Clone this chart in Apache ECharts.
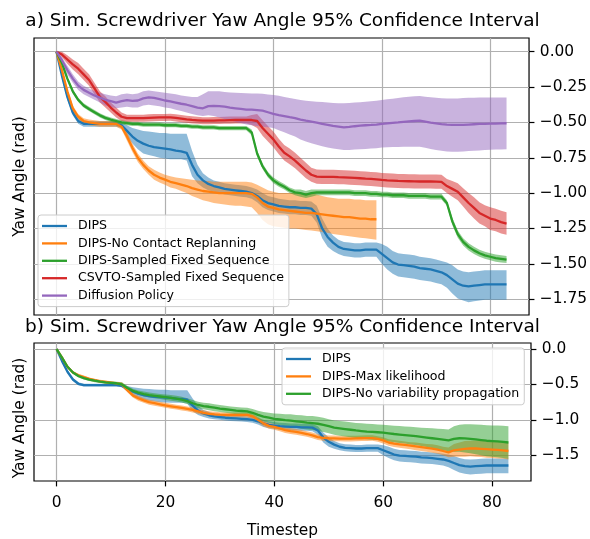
<!DOCTYPE html>
<html><head><meta charset="utf-8">
<script src="https://cdn.jsdelivr.net/npm/echarts@6/dist/echarts.min.js"></script>
<style>html,body{margin:0;padding:0;background:#fff}#c{width:590px;height:539px}</style>
</head><body><div id="c"></div>
<script>
// ---------- tick labels ----------
const xTicks = [0, 20, 40, 60, 80];
const yTicksTop = [0, -0.25, -0.5, -0.75, -1.0, -1.25, -1.5, -1.75];
const yTicksBottom = [0, -0.5, -1.0, -1.5];

// ---------- DIPS (shared by both panels) ----------
const dipsMean = [0,-0.17,-0.32,-0.43,-0.49,-0.51,-0.51,-0.51,-0.51,-0.51,-0.51,-0.51,
-0.52,-0.56,-0.6,-0.63,-0.65,-0.665,-0.675,-0.68,-0.685,-0.69,-0.7,-0.705,-0.715,
-0.8,-0.87,-0.91,-0.935,-0.95,-0.96,-0.97,-0.975,-0.98,-0.985,-0.99,-1.0,
-1.02,-1.05,-1.07,-1.08,-1.09,-1.095,-1.1,-1.1,-1.105,-1.105,-1.11,-1.15,
-1.25,-1.31,-1.35,-1.38,-1.395,-1.4,-1.405,-1.405,-1.4,-1.4,-1.4,
-1.43,-1.46,-1.49,-1.505,-1.51,-1.515,-1.52,-1.53,-1.535,-1.54,-1.55,-1.56,
-1.58,-1.61,-1.64,-1.655,-1.66,-1.655,-1.65,-1.645,-1.645,-1.645,-1.645,-1.645];
const dipsHi = [0,-0.15,-0.3,-0.41,-0.47,-0.49,-0.49,-0.49,-0.49,-0.49,-0.49,-0.49,
-0.5,-0.52,-0.54,-0.55,-0.56,-0.565,-0.57,-0.575,-0.575,-0.58,-0.58,-0.58,-0.58,
-0.7,-0.8,-0.86,-0.89,-0.91,-0.92,-0.93,-0.935,-0.94,-0.945,-0.95,-0.96,
-0.975,-1.0,-1.02,-1.03,-1.04,-1.045,-1.05,-1.05,-1.055,-1.055,-1.06,-1.09,
-1.18,-1.25,-1.3,-1.33,-1.345,-1.35,-1.355,-1.355,-1.35,-1.35,-1.35,
-1.36,-1.38,-1.41,-1.425,-1.43,-1.435,-1.44,-1.45,-1.455,-1.46,-1.47,-1.48,
-1.49,-1.51,-1.54,-1.555,-1.56,-1.555,-1.55,-1.545,-1.545,-1.545,-1.545,-1.545];
const dipsLo = [0,-0.19,-0.34,-0.45,-0.51,-0.53,-0.53,-0.53,-0.53,-0.53,-0.53,-0.53,
-0.54,-0.6,-0.65,-0.69,-0.72,-0.73,-0.74,-0.75,-0.755,-0.76,-0.76,-0.76,-0.77,
-0.88,-0.93,-0.96,-0.98,-0.99,-1.0,-1.01,-1.015,-1.02,-1.025,-1.03,-1.04,
-1.065,-1.1,-1.12,-1.13,-1.14,-1.145,-1.15,-1.15,-1.155,-1.155,-1.16,-1.21,
-1.32,-1.38,-1.41,-1.43,-1.445,-1.45,-1.455,-1.455,-1.45,-1.45,-1.45,
-1.5,-1.54,-1.57,-1.59,-1.595,-1.6,-1.605,-1.615,-1.62,-1.625,-1.635,-1.645,
-1.67,-1.71,-1.745,-1.76,-1.772,-1.765,-1.76,-1.755,-1.755,-1.755,-1.755,-1.755];

// ---------- DIPS-No Contact Replanning ----------
const noContactMean = [0,-0.13,-0.28,-0.4,-0.46,-0.49,-0.5,-0.505,-0.51,-0.51,-0.51,-0.51,
-0.53,-0.6,-0.68,-0.75,-0.8,-0.84,-0.87,-0.89,-0.905,-0.92,-0.93,-0.94,-0.95,-0.965,-0.975,-0.985,-0.99,-0.995,
-1.0,-1.0,-1.0,-1.0,-1.0,-1.0,-1.005,
-1.03,-1.07,-1.095,-1.105,-1.115,-1.12,-1.125,-1.13,-1.135,-1.14,-1.14,-1.145,-1.15,-1.155,-1.16,-1.165,-1.17,-1.17,-1.175,-1.18,-1.18,-1.185,-1.185];
const noContactHi = [0,-0.11,-0.26,-0.38,-0.44,-0.47,-0.48,-0.485,-0.49,-0.49,-0.49,-0.49,
-0.51,-0.57,-0.65,-0.72,-0.77,-0.81,-0.835,-0.855,-0.87,-0.88,-0.89,-0.895,-0.9,-0.905,-0.91,-0.915,-0.915,-0.92,
-0.92,-0.92,-0.92,-0.92,-0.92,-0.92,-0.925,
-0.94,-0.96,-0.98,-0.99,-1.0,-1.0,-1.0,-1.0,-1.0,-1.0,-1.0,-1.01,-1.02,-1.03,-1.035,-1.04,-1.04,-1.04,-1.045,-1.045,-1.05,-1.05,-1.05];
const noContactLo = [0,-0.15,-0.3,-0.42,-0.48,-0.51,-0.52,-0.525,-0.53,-0.53,-0.53,-0.53,
-0.55,-0.63,-0.71,-0.78,-0.83,-0.87,-0.905,-0.925,-0.94,-0.96,-0.97,-0.985,-1.0,-1.02,-1.035,-1.05,-1.06,-1.07,
-1.075,-1.08,-1.085,-1.09,-1.09,-1.095,-1.1,
-1.14,-1.19,-1.22,-1.235,-1.24,-1.245,-1.25,-1.25,-1.255,-1.26,-1.265,-1.27,-1.275,-1.28,-1.29,-1.295,-1.3,-1.305,-1.31,-1.315,-1.32,-1.325,-1.33];

// ---------- DIPS-Sampled Fixed Sequence ----------
const sampledMean = [0,-0.08,-0.19,-0.28,-0.34,-0.38,-0.405,-0.428,-0.45,-0.468,-0.48,-0.49,
-0.5,-0.505,-0.51,-0.51,-0.515,-0.515,-0.515,-0.515,-0.52,-0.52,-0.52,-0.525,-0.525,-0.53,-0.53,-0.535,-0.535,-0.535,-0.54,-0.54,-0.54,-0.54,-0.54,-0.54,
-0.57,-0.72,-0.81,-0.87,-0.91,-0.935,-0.955,-0.98,-0.995,-1.0,-1.01,-1.0,
-0.995,-0.995,-0.995,-0.995,-0.995,-0.995,-0.995,-1.0,-1.0,-1.0,-1.005,-1.005,
-1.01,-1.01,-1.015,-1.015,-1.015,-1.02,-1.02,-1.02,-1.02,-1.025,-1.025,-1.025,
-1.07,-1.2,-1.29,-1.345,-1.38,-1.405,-1.425,-1.44,-1.45,-1.46,-1.465,-1.47];
const sampledErr = [0,0.015,0.015,0.015,0.015,0.015,0.015,0.015,0.015,0.015,0.015,0.015,
0.015,0.015,0.015,0.015,0.015,0.015,0.015,0.015,0.015,0.015,0.015,0.015,0.015,0.015,0.015,0.015,0.015,0.015,0.015,0.015,0.015,0.015,0.015,0.015,
0.02,0.02,0.02,0.02,0.02,0.02,0.02,0.02,0.02,0.025,0.025,0.025,
0.02,0.02,0.02,0.02,0.02,0.02,0.02,0.02,0.02,0.02,0.02,0.02,
0.02,0.02,0.02,0.02,0.02,0.02,0.02,0.02,0.02,0.02,0.02,0.02,
0.02,0.025,0.025,0.025,0.025,0.025,0.025,0.025,0.025,0.025,0.025,0.025];

// ---------- CSVTO-Sampled Fixed Sequence ----------
const csvtoMean = [0,-0.02,-0.055,-0.09,-0.12,-0.16,-0.2,-0.26,-0.32,-0.355,-0.395,-0.43,
-0.46,-0.47,-0.47,-0.47,-0.47,-0.468,-0.466,-0.465,-0.465,-0.464,-0.468,-0.473,-0.478,-0.482,-0.485,-0.488,-0.488,-0.487,-0.486,-0.485,-0.484,-0.483,-0.483,-0.483,
-0.483,-0.49,-0.54,-0.58,-0.62,-0.67,-0.715,-0.74,-0.77,-0.805,-0.84,-0.87,
-0.883,-0.885,-0.885,-0.885,-0.887,-0.888,-0.89,-0.892,-0.895,-0.898,-0.9,-0.903,
-0.907,-0.91,-0.912,-0.914,-0.915,-0.916,-0.917,-0.918,-0.918,-0.918,-0.919,-0.92,
-0.95,-0.97,-0.99,-1.03,-1.07,-1.105,-1.14,-1.16,-1.18,-1.19,-1.205,-1.215];
const csvtoErr = [0,0.02,0.03,0.035,0.04,0.04,0.04,0.04,0.04,0.04,0.035,0.035,
0.03,0.025,0.025,0.025,0.025,0.025,0.025,0.025,0.025,0.025,0.025,0.025,0.025,0.025,0.025,0.025,0.025,0.025,0.025,0.025,0.025,0.025,0.025,0.025,
0.035,0.05,0.055,0.055,0.055,0.055,0.055,0.055,0.055,0.055,0.055,0.05,
0.05,0.05,0.05,0.05,0.05,0.05,0.05,0.05,0.05,0.05,0.05,0.05,
0.05,0.05,0.05,0.05,0.05,0.05,0.05,0.05,0.05,0.05,0.05,0.05,
0.05,0.055,0.06,0.065,0.07,0.075,0.075,0.075,0.08,0.08,0.08,0.08];

// ---------- Diffusion Policy ----------
const diffMean = [0,-0.06,-0.13,-0.19,-0.24,-0.27,-0.29,-0.31,-0.325,-0.34,-0.35,-0.36,
-0.35,-0.342,-0.348,-0.345,-0.33,-0.323,-0.327,-0.335,-0.345,-0.352,-0.36,-0.368,
-0.375,-0.385,-0.395,-0.4,-0.385,-0.383,-0.385,-0.389,-0.395,-0.4,-0.405,-0.41,
-0.41,-0.413,-0.417,-0.428,-0.44,-0.448,-0.455,-0.463,-0.47,-0.48,-0.488,-0.495,
-0.502,-0.51,-0.517,-0.525,-0.53,-0.535,-0.532,-0.527,-0.523,-0.52,-0.518,-0.515,
-0.511,-0.507,-0.503,-0.5,-0.496,-0.492,-0.49,-0.488,-0.495,-0.502,-0.507,-0.512,
-0.516,-0.518,-0.518,-0.517,-0.515,-0.513,-0.511,-0.51,-0.509,-0.508,-0.507,-0.506];
const diffHi = [0,-0.04,-0.1,-0.16,-0.21,-0.24,-0.26,-0.28,-0.29,-0.3,-0.31,-0.315,
-0.3,-0.295,-0.3,-0.295,-0.28,-0.275,-0.28,-0.285,-0.29,-0.295,-0.3,-0.31,
-0.315,-0.32,-0.32,-0.3,-0.28,-0.28,-0.28,-0.285,-0.288,-0.29,-0.292,-0.294,
-0.295,-0.296,-0.298,-0.302,-0.306,-0.312,-0.32,-0.328,-0.335,-0.342,-0.346,-0.35,
-0.353,-0.356,-0.359,-0.362,-0.364,-0.365,-0.363,-0.36,-0.357,-0.354,-0.35,-0.346,
-0.342,-0.337,-0.332,-0.327,-0.322,-0.318,-0.315,-0.313,-0.318,-0.322,-0.326,-0.329,
-0.33,-0.33,-0.33,-0.328,-0.326,-0.325,-0.324,-0.323,-0.323,-0.323,-0.323,-0.323];
const diffLo = [0,-0.08,-0.16,-0.22,-0.27,-0.3,-0.32,-0.34,-0.36,-0.38,-0.39,-0.4,
-0.395,-0.39,-0.395,-0.395,-0.38,-0.375,-0.38,-0.385,-0.395,-0.4,-0.41,-0.42,
-0.43,-0.44,-0.45,-0.455,-0.45,-0.455,-0.465,-0.475,-0.485,-0.495,-0.505,-0.515,
-0.52,-0.525,-0.53,-0.535,-0.54,-0.555,-0.57,-0.585,-0.6,-0.62,-0.635,-0.648,
-0.658,-0.668,-0.677,-0.685,-0.69,-0.695,-0.695,-0.692,-0.69,-0.688,-0.685,-0.682,
-0.678,-0.676,-0.674,-0.673,-0.672,-0.672,-0.672,-0.672,-0.68,-0.688,-0.695,-0.7,
-0.705,-0.707,-0.707,-0.705,-0.703,-0.7,-0.698,-0.695,-0.693,-0.692,-0.691,-0.69];

// ---------- panel b: DIPS-Max likelihood ----------
const maxLikMean = [0,-0.12,-0.25,-0.33,-0.37,-0.395,-0.42,-0.44,-0.455,-0.465,-0.475,-0.485,
-0.5,-0.58,-0.655,-0.695,-0.725,-0.75,-0.765,-0.78,-0.795,-0.808,-0.82,-0.832,
-0.845,-0.86,-0.88,-0.9,-0.915,-0.922,-0.927,-0.93,-0.93,-0.93,-0.93,-0.93,
-0.95,-1.0,-1.05,-1.085,-1.1,-1.12,-1.145,-1.16,-1.17,-1.185,-1.2,-1.22,
-1.245,-1.255,-1.26,-1.262,-1.264,-1.265,-1.265,-1.263,-1.26,-1.258,-1.257,-1.27,
-1.29,-1.32,-1.335,-1.345,-1.355,-1.365,-1.374,-1.385,-1.395,-1.405,-1.42,-1.44,
-1.46,-1.43,-1.42,-1.41,-1.404,-1.405,-1.41,-1.415,-1.42,-1.425,-1.43,-1.44];
const maxLikErr = [0,0.02,0.02,0.02,0.02,0.02,0.02,0.02,0.02,0.02,0.02,0.02,
0.03,0.03,0.03,0.035,0.035,0.035,0.035,0.035,0.035,0.035,0.035,0.035,
0.035,0.035,0.035,0.035,0.035,0.035,0.035,0.035,0.035,0.035,0.035,0.035,
0.04,0.04,0.04,0.04,0.04,0.04,0.04,0.04,0.04,0.04,0.04,0.04,
0.04,0.04,0.04,0.04,0.04,0.04,0.04,0.04,0.04,0.04,0.04,0.04,
0.045,0.045,0.05,0.05,0.05,0.05,0.055,0.055,0.055,0.06,0.06,0.06,
0.07,0.09,0.1,0.11,0.11,0.115,0.115,0.12,0.12,0.12,0.12,0.12];

// ---------- panel b: DIPS-No variability propagation ----------
const noVarMean = [0,-0.12,-0.25,-0.33,-0.38,-0.41,-0.432,-0.447,-0.46,-0.47,-0.477,-0.483,
-0.5,-0.55,-0.59,-0.615,-0.635,-0.65,-0.66,-0.67,-0.68,-0.69,-0.7,-0.715,
-0.735,-0.765,-0.79,-0.805,-0.815,-0.828,-0.84,-0.85,-0.86,-0.87,-0.875,-0.88,
-0.9,-0.93,-0.955,-0.97,-0.985,-0.995,-1.005,-1.012,-1.02,-1.03,-1.04,-1.045,
-1.055,-1.07,-1.09,-1.11,-1.12,-1.13,-1.14,-1.15,-1.158,-1.165,-1.17,-1.175,
-1.18,-1.19,-1.2,-1.208,-1.215,-1.222,-1.23,-1.24,-1.25,-1.26,-1.27,-1.28,
-1.29,-1.27,-1.26,-1.262,-1.268,-1.275,-1.285,-1.295,-1.3,-1.305,-1.312,-1.32];
const noVarErr = [0,0.02,0.02,0.02,0.02,0.02,0.02,0.02,0.02,0.02,0.02,0.02,
0.03,0.03,0.03,0.03,0.035,0.035,0.035,0.035,0.04,0.04,0.04,0.04,
0.04,0.045,0.045,0.045,0.05,0.05,0.05,0.05,0.05,0.05,0.05,0.05,
0.055,0.06,0.065,0.07,0.075,0.08,0.085,0.09,0.09,0.095,0.095,0.1,
0.1,0.1,0.1,0.1,0.105,0.105,0.105,0.105,0.11,0.11,0.11,0.11,
0.11,0.115,0.115,0.12,0.12,0.125,0.125,0.13,0.135,0.14,0.145,0.15,
0.155,0.18,0.19,0.2,0.205,0.21,0.215,0.22,0.22,0.225,0.228,0.23];

// ---------- rendering ----------
const FONT = 'DejaVu Sans';
const COL = { blue: '#1f77b4', orange: '#ff7f0e', green: '#2ca02c', red: '#d62728', purple: '#9467bd' };
const pairs = arr => arr.map((v, i) => [i, v]);
const minus = (m, e) => m.map((v, i) => v - e[i]);
const plus = (m, e) => m.map((v, i) => v + e[i]);

function lineS(name, mean, color, g) {
  return { type: 'line', name, xAxisIndex: g, yAxisIndex: g, data: pairs(mean),
    showSymbol: false, symbol: 'none', silent: true, animation: false,
    lineStyle: { color, width: 2.3, join: 'round' }, itemStyle: { color } };
}
function bandS(lo, hi, color, g) {
  return { type: 'custom', xAxisIndex: g, yAxisIndex: g, data: [[0, 0]], silent: true, animation: false,
    renderItem: (p, api) => {
      const pts = [];
      for (let i = 0; i < hi.length; i++) pts.push(api.coord([i, hi[i]]));
      for (let i = lo.length - 1; i >= 0; i--) pts.push(api.coord([i, lo[i]]));
      return { type: 'polygon', shape: { points: pts }, style: { fill: color, opacity: 0.5 } };
    } };
}
const fmt = d => v => (v < 0 ? '\u2212' : '') + Math.abs(v).toFixed(d);
const grid = { left: 34, right: 59, show: true, borderColor: '#000', borderWidth: 1.2, backgroundColor: 'transparent' };
const gridLine = { show: true, lineStyle: { color: '#b0b0b0', width: 1.2 } };
const tickStyle = { color: '#000', width: 1.2 };
const labelFont = { fontFamily: FONT, fontSize: 15.4, color: '#000' };

function yAx(g, min, max, ticks, d) {
  return { gridIndex: g, type: 'value', position: 'right', min, max,
    axisLine: { show: false, onZero: false },
    axisTick: { show: true, customValues: ticks, length: 5.4, lineStyle: tickStyle },
    axisLabel: Object.assign({ customValues: ticks, margin: 10.8, formatter: fmt(d) }, labelFont),
    splitLine: gridLine };
}
function legendBox(names, left, top) {
  return { data: names, orient: 'vertical', left, top, padding: [4, 5, 4, 4], itemGap: 3.4,
    itemWidth: 25, itemHeight: 2.3, icon: 'rect', selectedMode: false,
    backgroundColor: 'rgba(255,255,255,0.8)', borderColor: '#cccccc', borderWidth: 1, borderRadius: 3,
    textStyle: { fontFamily: FONT, fontSize: 12.6, color: '#000', lineHeight: 14, padding: [0, 0, 0, 6] } };
}
function txt(text, x, y, size, rot) {
  return { type: 'text', x, y, rotation: rot || 0, silent: true,
    style: { text, fontFamily: FONT, fontSize: size, fill: '#000',
      align: 'center', textAlign: 'center', verticalAlign: 'middle', textVerticalAlign: 'middle' } };
}

const chart = echarts.init(document.getElementById('c'), null, { renderer: 'canvas' });
chart.setOption({
  animation: false,
  backgroundColor: '#fff',
  grid: [Object.assign({ top: 38, height: 277 }, grid), Object.assign({ top: 343, height: 150 }, grid)],
  xAxis: [
    { gridIndex: 0, type: 'value', min: -4.15, max: 87.15, axisLine: { show: false, onZero: false },
      axisTick: { show: false, customValues: xTicks }, axisLabel: { show: false, customValues: xTicks }, splitLine: gridLine },
    { gridIndex: 1, type: 'value', min: -4.15, max: 87.15, axisLine: { show: false, onZero: false },
      axisTick: { show: true, customValues: xTicks, length: 5.4, lineStyle: tickStyle },
      axisLabel: Object.assign({ customValues: xTicks, margin: 14, formatter: v => String(v) }, labelFont),
      splitLine: gridLine,
      name: 'Timestep', nameLocation: 'middle', nameGap: 42, nameMoveOverlap: false, nameTextStyle: labelFont }
  ],
  yAxis: [yAx(0, -1.862, 0.097, yTicksTop, 2), yAx(1, -1.864, 0.086, yTicksBottom, 1)],
  legend: [
    legendBox(['DIPS', 'DIPS-No Contact Replanning', 'DIPS-Sampled Fixed Sequence', 'CSVTO-Sampled Fixed Sequence', 'Diffusion Policy'], 38, 215),
    legendBox(['DIPS', 'DIPS-Max likelihood', 'DIPS-No variability propagation'], 282, 348)
  ],
  graphic: [
    txt('a) Sim. Screwdriver Yaw Angle 95% Confidence Interval', 282.5, 21, 18.5),
    txt('b) Sim. Screwdriver Yaw Angle 95% Confidence Interval', 282.5, 327.5, 18.5),
    txt('Yaw Angle (rad)', 19.5, 176.5, 15.4, Math.PI / 2),
    txt('Yaw Angle (rad)', 19.5, 418, 15.4, Math.PI / 2)
  ],
  series: [
    lineS('DIPS', dipsMean, COL.blue, 0), bandS(dipsLo, dipsHi, COL.blue, 0),
    lineS('DIPS-No Contact Replanning', noContactMean, COL.orange, 0), bandS(noContactLo, noContactHi, COL.orange, 0),
    lineS('DIPS-Sampled Fixed Sequence', sampledMean, COL.green, 0), bandS(minus(sampledMean, sampledErr), plus(sampledMean, sampledErr), COL.green, 0),
    lineS('CSVTO-Sampled Fixed Sequence', csvtoMean, COL.red, 0), bandS(minus(csvtoMean, csvtoErr), plus(csvtoMean, csvtoErr), COL.red, 0),
    lineS('Diffusion Policy', diffMean, COL.purple, 0), bandS(diffLo, diffHi, COL.purple, 0),
    lineS('DIPS', dipsMean, COL.blue, 1), bandS(dipsLo, dipsHi, COL.blue, 1),
    lineS('DIPS-Max likelihood', maxLikMean, COL.orange, 1), bandS(minus(maxLikMean, maxLikErr), plus(maxLikMean, maxLikErr), COL.orange, 1),
    lineS('DIPS-No variability propagation', noVarMean, COL.green, 1), bandS(minus(noVarMean, noVarErr), plus(noVarMean, noVarErr), COL.green, 1)
  ]
});
</script>
</body></html>
